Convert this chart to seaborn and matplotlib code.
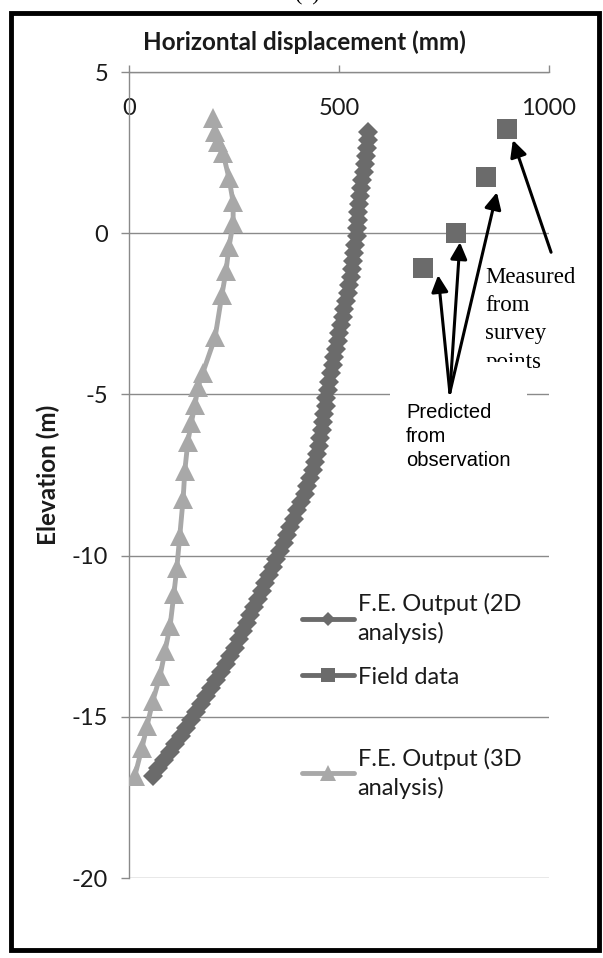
import numpy as np
import pandas as pd
import matplotlib
matplotlib.use("Agg")
import matplotlib.pyplot as plt
from matplotlib.lines import Line2D
from matplotlib.patches import Rectangle
import seaborn as sns

# F.E. output, 2D analysis (elevation m, displacement mm)
elev_2d = [3.15, 2.90, 2.65, 2.40, 2.15, 1.90, 1.65, 1.40, 1.15, 0.90, 0.65, 0.40, 0.15,
           -0.10, -0.35, -0.60, -0.85, -1.10, -1.35, -1.60, -1.85, -2.10, -2.35, -2.60,
           -2.85, -3.10, -3.35, -3.60, -3.85, -4.10, -4.35, -4.60, -4.85, -5.10, -5.35,
           -5.60, -5.85, -6.10, -6.35, -6.60, -6.85, -7.10, -7.35, -7.60, -7.85, -8.10,
           -8.35, -8.60, -8.85, -9.10, -9.35, -9.60, -9.85, -10.10, -10.35, -10.60,
           -10.85, -11.10, -11.35, -11.60, -11.85, -12.10, -12.35, -12.60, -12.85,
           -13.10, -13.35, -13.60, -13.85, -14.10, -14.35, -14.60, -14.85, -15.10,
           -15.35, -15.60, -15.85, -16.10, -16.35, -16.60, -16.85]
disp_2d = [569, 568, 567, 565, 562, 559, 556, 553, 550, 548, 546, 545, 544,
           542, 539, 536, 534, 531, 528, 524, 521, 517, 513, 509,
           505, 501, 497, 493, 489, 485, 481, 477, 474, 470, 468,
           465, 462, 459, 456, 452, 447, 442, 437, 431, 425, 418,
           410, 401, 392, 384, 376, 368, 359, 350, 342, 333,
           324, 316, 307, 298, 289, 280, 272, 262, 252,
           241, 230, 219, 207, 196, 184, 172, 160, 148,
           136, 123, 110, 97, 83, 70, 56]

# F.E. output, 3D analysis
elev_3d = [3.57, 3.14, 2.83, 2.48, 1.71, 0.96, 0.31, -0.43, -1.18, -1.93, -3.23, -4.32,
           -4.78, -5.34, -5.90, -6.49, -7.36, -8.23, -9.38, -10.37, -11.18, -12.17,
           -12.95, -13.73, -14.50, -15.28, -15.96, -16.83]
disp_3d = [200, 205, 212, 224, 238, 248, 248, 238, 231, 221, 205, 176,
           164, 157, 148, 140, 133, 129, 121, 114, 107, 98,
           86, 74, 57, 43, 31, 14]

# field data (survey points)
elev_field = [3.23, 1.74, 0.0, -1.09]
disp_field = [900, 850, 779, 700]

x_ticks = [0, 500, 1000]
y_ticks = [-20, -15, -10, -5, 0, 5]

C_2D = "#6b6b6b"
C_3D = "#a8a8a8"
C_GRID = "#8a8a8a"
TXT = "#1a1a1a"
FS = 17

sns.set_theme(style="white")
plt.rcParams["font.family"] = ["Lato", "DejaVu Sans"]
plt.rcParams["axes.unicode_minus"] = False

df2 = pd.DataFrame({"disp": disp_2d, "elev": elev_2d})
df3 = pd.DataFrame({"disp": disp_3d, "elev": elev_3d})
dff = pd.DataFrame({"disp": disp_field, "elev": elev_field})

fig = plt.figure(figsize=(6.03, 9.58), dpi=100)
ax = fig.add_axes([0.2139, 0.0835, 0.6965, 0.8413])

sns.lineplot(data=df3, x="disp", y="elev", sort=False, estimator=None, ax=ax,
             color=C_3D, lw=3.5, marker="^", markersize=15, markeredgewidth=0,
             zorder=3)
sns.lineplot(data=df2, x="disp", y="elev", sort=False, estimator=None, ax=ax,
             color=C_2D, lw=3, marker="D", markersize=10.5, markeredgewidth=0,
             zorder=4)
sns.scatterplot(data=dff, x="disp", y="elev", ax=ax, color=C_2D, marker="s",
                s=14 ** 2, linewidth=0, zorder=4)

ax.set_xlim(0, 1000)
ax.set_ylim(-20, 5)
ax.set_xticks(x_ticks)
ax.set_yticks(y_ticks)
ax.set_xlabel("")
ax.set_ylabel("Elevation (m)", fontsize=17.5, fontweight="bold", color=TXT)
ax.yaxis.set_label_coords(-0.165, 0.5)

ax.xaxis.set_ticks_position("top")
ax.tick_params(axis="x", top=True, bottom=False, labeltop=True, labelbottom=False,
               direction="out", length=5, width=1, color=C_GRID, pad=-39,
               labelsize=FS, labelcolor=TXT)
ax.tick_params(axis="y", left=True, direction="out", length=6, width=1,
               color=C_GRID, pad=9, labelsize=FS, labelcolor=TXT)

for side in ["right", "bottom"]:
    ax.spines[side].set_visible(False)
for side in ["top", "left"]:
    ax.spines[side].set_color(C_GRID)
    ax.spines[side].set_linewidth(1)
ax.yaxis.grid(True, color=C_GRID, lw=1)
ax.xaxis.grid(False)
ax.set_axisbelow(True)

# legends (Excel-like, two blocks)
h2d = Line2D([], [], color=C_2D, lw=3.5, marker="D", markersize=7, markeredgewidth=0)
hfd = Line2D([], [], color=C_2D, lw=3.5, marker="s", markersize=10, markeredgewidth=0)
h3d = Line2D([], [], color=C_3D, lw=3.5, marker="^", markersize=11, markeredgewidth=0)
leg1 = ax.legend([h2d, hfd], ["F.E. Output (2D\nanalysis)", "Field data"],
                 loc="upper left", bbox_to_anchor=(0.412, 0.354), frameon=False,
                 fontsize=FS, handlelength=2.2, handletextpad=0.15,
                 labelspacing=0.95, borderpad=0, borderaxespad=0)
for t in leg1.get_texts():
    t.set_linespacing(1.4)
    t.set_color(TXT)
ax.add_artist(leg1)
leg2 = ax.legend([h3d], ["F.E. Output (3D\nanalysis)"],
                 loc="upper left", bbox_to_anchor=(0.412, 0.162), frameon=False,
                 fontsize=FS, handlelength=2.2, handletextpad=0.15,
                 borderpad=0, borderaxespad=0)
for t in leg2.get_texts():
    t.set_linespacing(1.4)
    t.set_color(TXT)

# annotations
ax.text(848, -1.05, "Measured\nfrom\nsurvey\npoints", family="Liberation Serif",
        fontsize=16.5, va="top", ha="left", color="black", linespacing=1.45,
        zorder=5, clip_on=False)
ax.text(660, -4.5, "\nPredicted\nfrom\nobservation", family="Liberation Sans",
        fontsize=14.5, va="top", ha="left", color="black", linespacing=1.35,
        zorder=6, bbox=dict(boxstyle="square,pad=0.8", fc="white", ec="none"))

arrow = dict(arrowstyle="-|>,head_length=0.5,head_width=0.25", lw=2.2, color="black",
             shrinkA=0, shrinkB=0, mutation_scale=20)
tail_pred = (764, -4.94)
for head in [(736, -1.30), (788, -0.28), (876, 1.27)]:
    ax.annotate("", xy=head, xytext=tail_pred, arrowprops=arrow,
                annotation_clip=False, zorder=7)
ax.annotate("", xy=(914, 2.89), xytext=(1005, -0.59), arrowprops=arrow,
            annotation_clip=False, zorder=7)

# titles and frame
fig.text(304 / 603, 1 - 42 / 958, "Horizontal displacement (mm)", ha="center",
         va="center", fontsize=17.5, fontweight="bold", color=TXT)
fig.text(307 / 603, 1.004, "(a)", ha="center", va="center", fontsize=16,
         family="Liberation Serif", color="black")
fig.add_artist(Rectangle((11 / 603, 8 / 958), 588 / 603, 937 / 958,
                         transform=fig.transFigure, fill=False, lw=3.5,
                         ec="black"))

fig.savefig("out.png", dpi=100, facecolor="white")
